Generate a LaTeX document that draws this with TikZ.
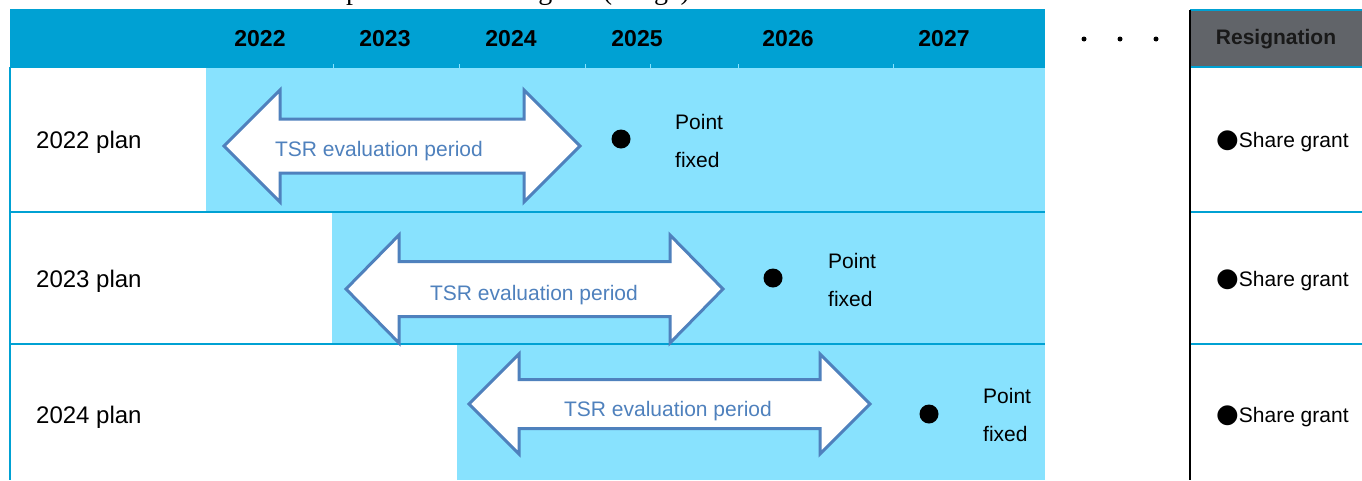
\documentclass[tikz,border=0pt]{standalone}
\usepackage{fontspec}
\setmainfont{Liberation Sans}
\newfontfamily\seriffont{Liberation Serif}
\newfontfamily\symfont{DejaVu Sans}
\definecolor{hdrblue}{RGB}{0,161,211}
\definecolor{lightblue}{RGB}{136,226,254}
\definecolor{hdrgray}{RGB}{97,100,105}
\definecolor{arrowblue}{RGB}{79,129,189}
\tikzset{
  hdr/.style={font=\fontsize{23}{23}\selectfont\bfseries, inner sep=0},
  lbl/.style={font=\fontsize{24}{24}\selectfont, anchor=west, inner sep=0},
  tsr/.style={font=\fontsize{21}{21}\selectfont, text=arrowblue, inner sep=0},
  ptfix/.style={font=\fontsize{21}{38}\selectfont, align=left, anchor=west, inner sep=0},
  arrowbox/.style={draw=arrowblue, fill=white, line width=3pt, line join=miter},
  gridline/.style={draw=hdrblue, line width=2pt},
  fixdot/.style={circle, fill=black, minimum size=19pt, inner sep=0},
  share/.style={font=\fontsize{21}{21}\selectfont, anchor=west, inner sep=0},
  ell/.style={circle, fill=black, minimum size=5pt, inner sep=0}
}
\newcommand{\dblarrow}[6]{% xl, xr, yc, headlen, headhalf, shafthalf
  \draw[arrowbox] (#1,#3) -- ({#1+#4},{#3-#5}) -- ({#1+#4},{#3-#6}) -- ({#2-#4},{#3-#6})
    -- ({#2-#4},{#3-#5}) -- (#2,#3) -- ({#2-#4},{#3+#5}) -- ({#2-#4},{#3+#6})
    -- ({#1+#4},{#3+#6}) -- ({#1+#4},{#3+#5}) -- cycle;}
\begin{document}
\begin{tikzpicture}[x=1pt,y=-1pt]
\useasboundingbox (0,0) rectangle (1362,480);
% title fragment (clipped at the top edge, as in the reference)
\begin{scope}
  \clip (0,0) rectangle (1362,480);
  \node[anchor=base west, inner sep=0, font=\seriffont\fontsize{28}{28}\selectfont] (title) at (164,-0.5) {TSR evaluation period and share grant (image)};
\end{scope}
% light blue period areas
\fill[lightblue] (206,68) rectangle (1045,212);
\fill[lightblue] (332,212) rectangle (1045,344);
\fill[lightblue] (457,344) rectangle (1045,480);
% header
\fill[hdrblue] (10,9) rectangle (1045,68);
\foreach \x in {333,459,585,650,738,893} \draw[lightblue, line width=1pt] (\x,64) -- (\x,68);
% grid
\draw[gridline] (10,67) -- (10,480);
\draw[gridline] (10,212) -- (1045,212);
\draw[gridline] (10,344) -- (1045,344);
% right column
\fill[hdrgray] (1190,10) rectangle (1362,66);
\draw[gridline] (1190,10) -- (1362,10);
\draw[gridline] (1190,66.5) -- (1362,66.5);
\draw[gridline] (1190,212) -- (1362,212);
\draw[gridline] (1190,344) -- (1362,344);
\draw[black, line width=2.5pt] (1190,10) -- (1190,480);
% header texts
\node[hdr] (y22) at (260,39) {2022};
\node[hdr] (y23) at (385,39) {2023};
\node[hdr] (y24) at (511,39) {2024};
\node[hdr] (y25) at (637,39) {2025};
\node[hdr] (y26) at (788,39) {2026};
\node[hdr] (y27) at (944,39) {2027};
\node[ell] (d1) at (1084,39) {};
\node[ell] (d2) at (1120,39) {};
\node[ell] (d3) at (1156,39) {};
\node[hdr, font=\fontsize{21}{21}\selectfont\bfseries, text={rgb,255:red,25;green,25;blue,25}] (resig) at (1276,39) {Resignation};
% row labels
\node[lbl] (p22) at (36,142) {2022 plan};
\node[lbl] (p23) at (36,281) {2023 plan};
\node[lbl] (p24) at (36,417) {2024 plan};
% arrows
\dblarrow{224}{580}{146}{56}{56}{27}
\node[tsr] (t1) at (379,151) {TSR evaluation period};
\dblarrow{346}{723}{289}{53}{54}{27.5}
\node[tsr] (t2) at (534,295) {TSR evaluation period};
\dblarrow{469}{870}{404}{50}{50}{24.5}
\node[tsr] (t3) at (668,411) {TSR evaluation period};
% fixed points
\node[fixdot] (f1) at (621,139) {};
\node[ptfix] (pf1) at (675,141) {Point\\fixed};
\node[fixdot] (f2) at (773,278) {};
\node[ptfix] (pf2) at (828,280) {Point\\fixed};
\node[fixdot] (f3) at (929,414) {};
\node[ptfix] (pf3) at (983,415) {Point\\fixed};
% share grant
\node[share] (s1) at (1216,141) {{\symfont\fontsize{26}{26}\selectfont ●}Share grant};
\node[share] (s2) at (1216,280) {{\symfont\fontsize{26}{26}\selectfont ●}Share grant};
\node[share] (s3) at (1216,416) {{\symfont\fontsize{26}{26}\selectfont ●}Share grant};
\end{tikzpicture}
\end{document}
